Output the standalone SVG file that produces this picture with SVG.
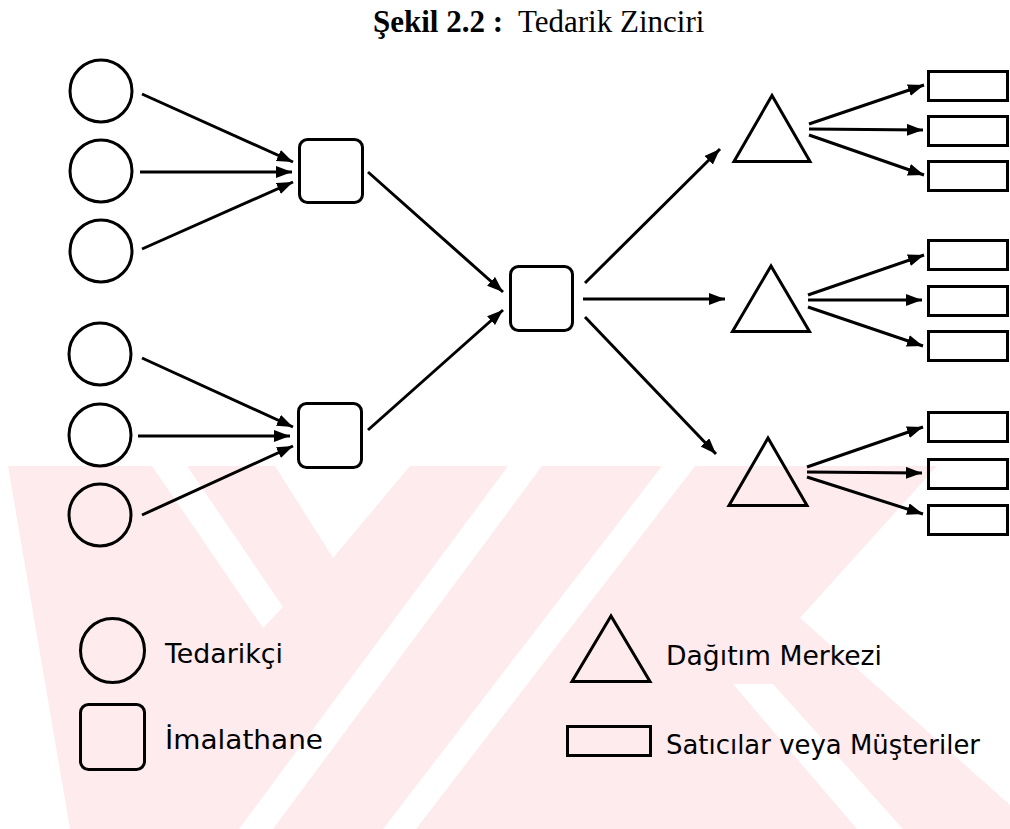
<svg xmlns="http://www.w3.org/2000/svg" width="1010" height="829" viewBox="0 0 1010 829">
  <defs>
    <marker id="arrow" markerUnits="userSpaceOnUse" markerWidth="17" markerHeight="13" refX="16" refY="6" orient="auto">
      <path d="M0,0 L16,6 L0,12 Z" fill="#000"/>
    </marker>
  </defs>
  <style>
    .shape { fill: none; stroke: #000; stroke-width: 3; }
    .tri { fill: none; stroke: #000; stroke-width: 3; stroke-linejoin: miter; }
    .link { stroke: #000; stroke-width: 3; fill: none; marker-end: url(#arrow); }
    .title { font-family: "Liberation Serif", "Times New Roman", serif; font-size: 31px; fill: #000; }
    .legend { font-family: "DejaVu Sans", "Liberation Sans", sans-serif; font-size: 27px; fill: #000; }
    .wm { fill: #fdebee; }
    .gap { fill: #fff; }
  </style>

  <rect width="1010" height="829" fill="#fff"/>

  <!-- background stamp: pale band with slanted cut-outs -->
  <g id="stamp">
    <rect class="wm" x="7" y="466" width="1003" height="363"/>
    <polygon class="gap" points="0,466 8,466 70,829 0,829"/>
    <polygon class="gap" points="152,466 187,466 283,607 263,628"/>
    <polygon class="gap" points="275,466 410,466 333,558"/>
    <polygon class="gap" points="508,466 542,466 273,829 239,829"/>
    <polygon class="gap" points="662,466 695,466 416,829 383,829"/>
    <polygon class="gap" points="937,466 1010,466 1010,805 800,618"/>
    <polygon class="gap" points="733,684 773,684 903,829 857,829"/>
  </g>

  <!-- title -->
  <text class="title" y="32"><tspan x="373" font-weight="bold">Şekil 2.2 :</tspan><tspan x="518">Tedarik Zinciri</tspan></text>

  <!-- suppliers -->
  <g id="supplier-1"><circle class="shape" cx="101" cy="91" r="31"/></g>
  <g id="supplier-2"><circle class="shape" cx="101" cy="171" r="31"/></g>
  <g id="supplier-3"><circle class="shape" cx="101" cy="251" r="31"/></g>
  <g id="supplier-4"><circle class="shape" cx="100" cy="354" r="31"/></g>
  <g id="supplier-5"><circle class="shape" cx="100" cy="435" r="31"/></g>
  <g id="supplier-6"><circle class="shape" cx="100" cy="515" r="31"/></g>

  <!-- plants -->
  <g id="plant-1"><rect class="shape" x="299.5" y="139.5" width="63" height="63" rx="8"/></g>
  <g id="plant-2"><rect class="shape" x="298.5" y="403.5" width="63" height="64" rx="8"/></g>
  <g id="plant-main"><rect class="shape" x="510.5" y="266.5" width="62" height="64" rx="8"/></g>

  <!-- distribution centres -->
  <g id="dc-1"><polygon class="tri" points="772,95.5 734,161.5 810,161.5"/></g>
  <g id="dc-2"><polygon class="tri" points="771,266 732.5,331.5 809.5,331.5"/></g>
  <g id="dc-3"><polygon class="tri" points="768,438 729,505.5 807,505.5"/></g>

  <!-- retailers / customers -->
  <g id="retailer-1"><rect class="shape" x="928.5" y="71.5" width="79" height="29"/></g>
  <g id="retailer-2"><rect class="shape" x="928.5" y="116.5" width="79" height="29"/></g>
  <g id="retailer-3"><rect class="shape" x="928.5" y="161.5" width="79" height="29"/></g>
  <g id="retailer-4"><rect class="shape" x="928.5" y="240.5" width="79" height="29"/></g>
  <g id="retailer-5"><rect class="shape" x="928.5" y="286.5" width="79" height="29"/></g>
  <g id="retailer-6"><rect class="shape" x="928.5" y="331.5" width="79" height="29"/></g>
  <g id="retailer-7"><rect class="shape" x="928.5" y="412.5" width="79" height="29"/></g>
  <g id="retailer-8"><rect class="shape" x="928.5" y="459.5" width="79" height="29"/></g>
  <g id="retailer-9"><rect class="shape" x="928.5" y="505.5" width="79" height="29"/></g>

  <!-- flows -->
  <g id="connectors">
    <line class="link" x1="142" y1="94" x2="293" y2="162"/>
    <line class="link" x1="140" y1="172" x2="292" y2="172"/>
    <line class="link" x1="142" y1="249" x2="293" y2="182"/>
    <line class="link" x1="142" y1="358" x2="293" y2="427"/>
    <line class="link" x1="138" y1="436" x2="290" y2="436"/>
    <line class="link" x1="142" y1="515" x2="293" y2="446"/>
    <line class="link" x1="368" y1="172" x2="503" y2="292"/>
    <line class="link" x1="368" y1="430" x2="503" y2="310"/>
    <line class="link" x1="585" y1="283" x2="720" y2="149"/>
    <line class="link" x1="583" y1="299" x2="725" y2="299"/>
    <line class="link" x1="585" y1="317" x2="716" y2="454"/>
    <line class="link" x1="809" y1="124" x2="924" y2="85"/>
    <line class="link" x1="809" y1="129" x2="923" y2="130"/>
    <line class="link" x1="809" y1="135" x2="924" y2="175"/>
    <line class="link" x1="808" y1="295" x2="924" y2="255"/>
    <line class="link" x1="808" y1="300" x2="922" y2="300"/>
    <line class="link" x1="808" y1="307" x2="923" y2="346"/>
    <line class="link" x1="807" y1="467" x2="923" y2="427"/>
    <line class="link" x1="807" y1="472" x2="922" y2="473"/>
    <line class="link" x1="807" y1="477" x2="923" y2="514"/>
  </g>

  <!-- key -->
  <g id="key-supplier">
    <circle class="shape" cx="112.5" cy="650.5" r="32"/>
    <text class="legend" x="165" y="663" textLength="118" lengthAdjust="spacingAndGlyphs">Tedarikçi</text>
  </g>
  <g id="key-plant">
    <rect class="shape" x="80.5" y="704.5" width="64" height="65" rx="8"/>
    <text class="legend" x="165" y="749" textLength="158" lengthAdjust="spacingAndGlyphs">İmalathane</text>
  </g>
  <g id="key-dc">
    <polygon class="tri" points="611,616 572,681.5 650,681.5"/>
    <text class="legend" x="666" y="665" textLength="216" lengthAdjust="spacingAndGlyphs">Dağıtım Merkezi</text>
  </g>
  <g id="key-retailer">
    <rect class="shape" x="567.5" y="726.5" width="83" height="29"/>
    <text class="legend" x="666" y="754" textLength="314" lengthAdjust="spacingAndGlyphs">Satıcılar veya Müşteriler</text>
  </g>
</svg>
